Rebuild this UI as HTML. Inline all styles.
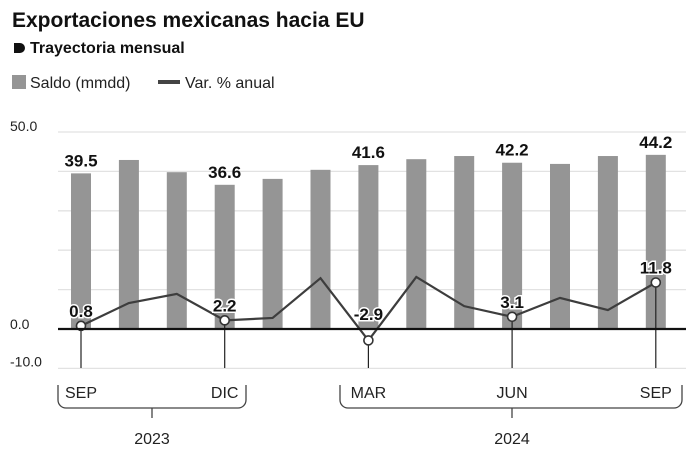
<!DOCTYPE html>
<html><head><meta charset="utf-8"><style>
body{margin:0;background:#fff;}
svg{display:block;font-family:"Liberation Sans",sans-serif;}
</style></head><body>
<svg id="c" width="694" height="456" viewBox="0 0 694 456">
<text x="12" y="27" font-size="21" font-weight="bold" fill="#111">Exportaciones mexicanas hacia EU</text>
<path d="M14 43h6a5 5 0 0 1 0 10h-6z" fill="#111"/>
<text x="30" y="53" font-size="16" font-weight="bold" fill="#111">Trayectoria mensual</text>
<rect x="12" y="75" width="14" height="14" fill="#959595"/>
<text x="30" y="88" font-size="16" fill="#222">Saldo (mmdd)</text>
<rect x="158" y="80" width="22" height="4" fill="#444"/>
<text x="185" y="88" font-size="16" fill="#222">Var. % anual</text>
<g id="grid"></g><g id="bars"></g><g id="line"></g><g id="axis"></g>
</svg>
<script>
const months=["SEP","OCT","NOV","DIC","ENE","FEB","MAR","ABR","MAY","JUN","JUL","AGO","SEP"];
const saldo=[39.5,42.9,39.8,36.6,38.1,40.4,41.6,43.1,43.9,42.2,41.9,43.9,44.2];
const varAnual=[0.8,6.6,8.9,2.2,2.8,12.9,-2.9,13.2,5.8,3.1,7.9,4.8,11.8];
const yTicks=[-10,0,10,20,30,40,50];
const yTickLabels=["-10.0","0.0","","","","","50.0"];
const labeled=[0,3,6,9,12];
const ns="http://www.w3.org/2000/svg";
const y=v=>329-v*3.94;
const x=i=>81+i*47.9;
function mk(tag,attrs,parent,text){const e=document.createElementNS(ns,tag);for(const k in attrs)e.setAttribute(k,attrs[k]);if(text!==undefined)e.textContent=text;document.getElementById(parent).appendChild(e);return e;}
yTicks.forEach((t,i)=>{
  if(t!==0){const l=mk('line',{x1:58,x2:686,y1:y(t),y2:y(t),stroke:'#e2e2e2','stroke-width':1.3},'grid');
  
  }
  if(yTickLabels[i]){const tx=mk('text',{x:10,y:y(t)+(t===50?-1:(t===-10?-2:0)),'font-size':14,fill:'#222'},'grid',yTickLabels[i]);
  
  }
});
saldo.forEach((v,i)=>{
  const r=mk('rect',{x:x(i)-10,y:y(v),width:20,height:y(0)-y(v),fill:'#959595'},'bars');
  
  
});
labeled.forEach(i=>{
  const t=mk('text',{x:x(i),y:y(saldo[i])-7,'font-size':17,'font-weight':'bold','text-anchor':'middle',fill:'#111'},'bars',saldo[i].toFixed(1));
  
  
  const d=mk('line',{x1:x(i),x2:x(i),y1:y(varAnual[i]),y2:368,stroke:'#222','stroke-width':1.2},'line');
  
  
});
const z=mk('line',{x1:58,x2:686,y1:y(0),y2:y(0),stroke:'#111','stroke-width':2.2},'axis');


const p=mk('polyline',{points:varAnual.map((v,i)=>x(i)+','+y(v)).join(' '),fill:'none',stroke:'#3d3d3d','stroke-width':2.2},'line');


labeled.forEach(i=>{
  const c=mk('circle',{cx:x(i),cy:y(varAnual[i]),r:4.5,fill:'#fff',stroke:'#333','stroke-width':1.6},'line');
  
  
  const t=mk('text',{x:x(i),y:y(Math.max(varAnual[i],0))-9,'font-size':17,'font-weight':'bold','text-anchor':'middle',fill:'#111',stroke:'#fff','stroke-width':3,'paint-order':'stroke'},'line',varAnual[i].toFixed(1));
  
  
  const m=mk('text',{x:x(i),y:398,'font-size':16,'text-anchor':'middle',fill:'#222'},'axis',months[i]);
  
  
});
const b1=mk('path',{d:'M58 385v15a8 8 0 0 0 8 8h172a8 8 0 0 0 8-8v-15M152 408v10',fill:'none',stroke:'#444','stroke-width':1.3},'axis');


const b2=mk('path',{d:'M340 385v15a8 8 0 0 0 8 8h326a8 8 0 0 0 8-8v-15M512 408v10',fill:'none',stroke:'#444','stroke-width':1.3},'axis');


const y1=mk('text',{x:152,y:444,'font-size':16,'text-anchor':'middle',fill:'#222'},'axis','2023');


const y2=mk('text',{x:512,y:444,'font-size':16,'text-anchor':'middle',fill:'#222'},'axis','2024');


</script>
</body></html>
